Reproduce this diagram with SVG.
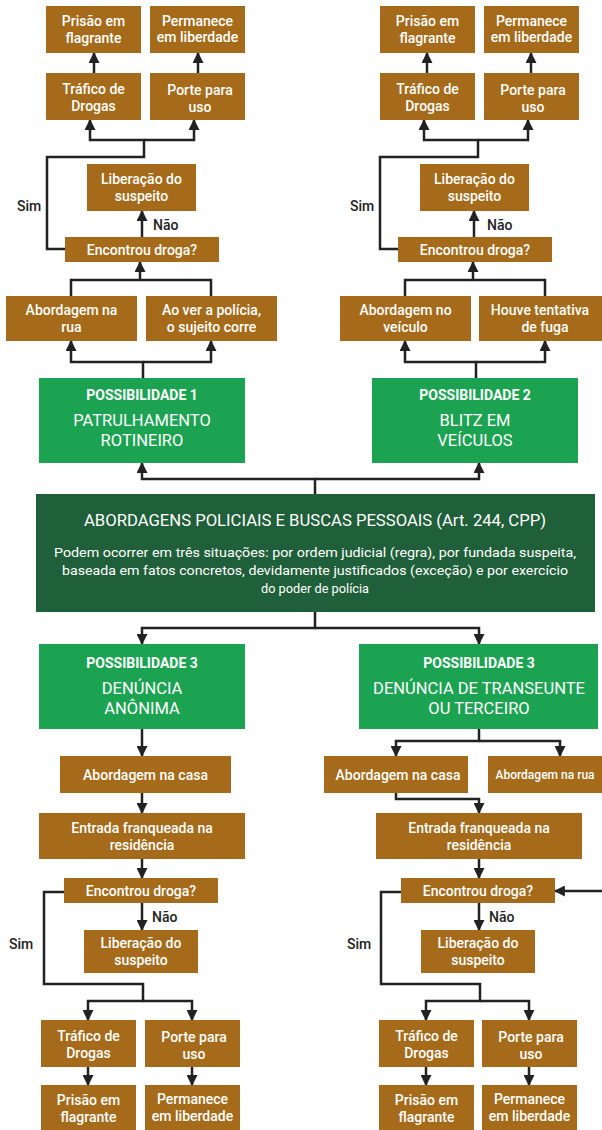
<svg xmlns="http://www.w3.org/2000/svg" width="602" height="1130" viewBox="0 0 602 1130">
<style>
.b{fill:#A56B1A}
.g{fill:#1CA352}
.d{fill:#1F5F39}
.t{font-family:Roboto,"Liberation Sans",sans-serif;font-size:14px;font-weight:500;fill:#fff;text-anchor:middle}
.gh{font-family:Roboto,"Liberation Sans",sans-serif;font-size:14px;font-weight:700;fill:#fff;text-anchor:middle}
.gt{font-family:Roboto,"Liberation Sans",sans-serif;font-size:16.5px;font-weight:400;fill:#fff;text-anchor:middle}
.mt{font-family:Roboto,"Liberation Sans",sans-serif;font-size:16px;font-weight:400;fill:#fff;text-anchor:middle}
.mb{font-family:Roboto,"Liberation Sans",sans-serif;font-size:13px;font-weight:400;fill:#fff;text-anchor:middle}
.l{font-family:Roboto,"Liberation Sans",sans-serif;font-size:14px;font-weight:500;fill:#222}
.c{fill:none;stroke:#222;stroke-width:2.5}
.a{marker-end:url(#ah)}
</style>
<defs>
<marker id="ah" viewBox="0 0 10 10" refX="9" refY="5" markerWidth="11" markerHeight="11" markerUnits="userSpaceOnUse" orient="auto">
<path d="M0,0 L10,5 L0,10 z" fill="#222"/>
</marker>
</defs>
<rect width="602" height="1130" fill="#fff"/>

<g id="connectors">
<path class="c a" d="M94,73 V53"/>
<path class="c a" d="M198,73 V53"/>
<path class="c a" d="M65,249 H47 V157 H144 V140 H90 V120"/>
<path class="c a" d="M144,140 H194 V120"/>
<path class="c a" d="M142,237 V211"/>
<path class="c" d="M71,296 V280 H211 V296"/>
<path class="c a" d="M140,280 V262"/>
<path class="c a" d="M143,378 V362 H71 V341"/>
<path class="c a" d="M143,362 H211 V341"/>
<path class="c a" d="M427,73 V53"/>
<path class="c a" d="M531,73 V53"/>
<path class="c a" d="M398,249 H380 V157 H478 V140 H424 V120"/>
<path class="c a" d="M478,140 H528 V120"/>
<path class="c a" d="M474,237 V211"/>
<path class="c" d="M405,296 V280 H545 V296"/>
<path class="c a" d="M473,280 V262"/>
<path class="c a" d="M476,378 V362 H405 V341"/>
<path class="c a" d="M476,362 H545 V341"/>
<path class="c a" d="M315,494 V479 H142 V463"/>
<path class="c a" d="M315,479 H479 V463"/>
<path class="c a" d="M315,612 V628 H142 V644"/>
<path class="c a" d="M315,628 H479 V644"/>
<path class="c a" d="M142,729 V756"/>
<path class="c a" d="M142,793 V813"/>
<path class="c a" d="M142,859 V878"/>
<path class="c a" d="M142,903 V930"/>
<path class="c a" d="M64,892 H44 V984 H143 V1001 H88 V1020"/>
<path class="c a" d="M143,1001 H192 V1020"/>
<path class="c a" d="M88,1067 V1085"/>
<path class="c a" d="M192,1067 V1085"/>
<path class="c a" d="M479,729 V741 H396 V756"/>
<path class="c a" d="M479,741 H560 V756"/>
<path class="c a" d="M396,793 V799 H479 V813"/>
<path class="c a" d="M479,859 V878"/>
<path class="c a" d="M602,891 H555"/>
<path class="c a" d="M479,903 V930"/>
<path class="c a" d="M401,892 H381 V984 H480 V1001 H426 V1020"/>
<path class="c a" d="M480,1001 H529 V1020"/>
<path class="c a" d="M426,1067 V1085"/>
<path class="c a" d="M529,1067 V1085"/>
</g>

<g id="labels">
<text class="l" x="17" y="211">Sim</text>
<text class="l" x="153" y="230">Não</text>
<text class="l" x="350" y="211">Sim</text>
<text class="l" x="487" y="230">Não</text>
<text class="l" x="152" y="922">Não</text>
<text class="l" x="9" y="949">Sim</text>
<text class="l" x="489" y="922">Não</text>
<text class="l" x="347" y="949">Sim</text>
</g>

<g id="tl-prisao"><rect class="b" x="46" y="6" width="95" height="47"/><text class="t" x="93.5" y="26">Prisão em</text><text class="t" x="93.5" y="43">flagrante</text></g>
<g id="tl-permanece"><rect class="b" x="150" y="6" width="95" height="47"/><text class="t" x="197.5" y="26">Permanece</text><text class="t" x="197.5" y="42">em liberdade</text></g>
<g id="tl-trafico"><rect class="b" x="46" y="73" width="95" height="47"/><text class="t" x="93.5" y="94">Tráfico de</text><text class="t" x="93.5" y="111">Drogas</text></g>
<g id="tl-porte"><rect class="b" x="150" y="73" width="95" height="47"/><text class="t" x="200" y="95">Porte para</text><text class="t" x="200" y="112">uso</text></g>
<g id="tl-liberacao"><rect class="b" x="87" y="164" width="109" height="47"/><text class="t" x="141.5" y="184">Liberação do</text><text class="t" x="141.5" y="201">suspeito</text></g>
<g id="tl-encontrou"><rect class="b" x="65" y="237" width="154" height="25"/><text class="t" x="142" y="254.5">Encontrou droga?</text></g>
<g id="tl-rua"><rect class="b" x="6" y="296" width="131" height="45"/><text class="t" x="71.5" y="315">Abordagem na</text><text class="t" x="71.5" y="332">rua</text></g>
<g id="tl-policia"><rect class="b" x="146" y="296" width="131" height="45"/><text class="t" x="211.5" y="315">Ao ver a polícia,</text><text class="t" x="211.5" y="332">o sujeito corre</text></g>
<g id="p1"><rect class="g" x="39" y="378" width="206" height="85"/><text class="gh" x="142" y="400">POSSIBILIDADE 1</text><text class="gt" x="142" y="426">PATRULHAMENTO</text><text class="gt" x="142" y="445.5">ROTINEIRO</text></g>

<g id="tr-prisao"><rect class="b" x="380" y="6" width="95" height="47"/><text class="t" x="427.5" y="26">Prisão em</text><text class="t" x="427.5" y="43">flagrante</text></g>
<g id="tr-permanece"><rect class="b" x="484" y="6" width="95" height="47"/><text class="t" x="531.5" y="26">Permanece</text><text class="t" x="531.5" y="42">em liberdade</text></g>
<g id="tr-trafico"><rect class="b" x="380" y="73" width="95" height="47"/><text class="t" x="427.5" y="94">Tráfico de</text><text class="t" x="427.5" y="111">Drogas</text></g>
<g id="tr-porte"><rect class="b" x="484" y="73" width="95" height="47"/><text class="t" x="533" y="95">Porte para</text><text class="t" x="533" y="112">uso</text></g>
<g id="tr-liberacao"><rect class="b" x="420" y="164" width="109" height="47"/><text class="t" x="474.5" y="184">Liberação do</text><text class="t" x="474.5" y="201">suspeito</text></g>
<g id="tr-encontrou"><rect class="b" x="398" y="237" width="154" height="25"/><text class="t" x="475" y="254.5">Encontrou droga?</text></g>
<g id="tr-veiculo"><rect class="b" x="340" y="296" width="131" height="45"/><text class="t" x="405.5" y="315">Abordagem no</text><text class="t" x="405.5" y="332">veículo</text></g>
<g id="tr-fuga"><rect class="b" x="479" y="296" width="123" height="45"/><text class="t" x="540" y="315">Houve tentativa</text><text class="t" x="545" y="332">de fuga</text></g>
<g id="p2"><rect class="g" x="372" y="378" width="206" height="85"/><text class="gh" x="475" y="400">POSSIBILIDADE 2</text><text class="gt" x="475" y="426">BLITZ EM</text><text class="gt" x="475" y="445.5">VEÍCULOS</text></g>

<g id="main"><rect class="d" x="36" y="494" width="559" height="118"/>
<text class="mt" x="315" y="525.5" textLength="462" lengthAdjust="spacingAndGlyphs">ABORDAGENS POLICIAIS E BUSCAS PESSOAIS (Art. 244, CPP)</text>
<text class="mb" x="315" y="557" textLength="522" lengthAdjust="spacingAndGlyphs">Podem ocorrer em três situações: por ordem judicial (regra), por fundada suspeita,</text>
<text class="mb" x="315" y="575" textLength="506" lengthAdjust="spacingAndGlyphs">baseada em fatos concretos, devidamente justificados (exceção) e por exercício</text>
<text class="mb" x="315" y="593" textLength="108" lengthAdjust="spacingAndGlyphs">do poder de polícia</text>
</g>

<g id="p3a"><rect class="g" x="39" y="644" width="206" height="85"/><text class="gh" x="142" y="668">POSSIBILIDADE 3</text><text class="gt" x="142" y="694">DENÚNCIA</text><text class="gt" x="142" y="714">ANÔNIMA</text></g>
<g id="bl-casa"><rect class="b" x="60" y="756" width="171" height="37"/><text class="t" x="145.5" y="779.5">Abordagem na casa</text></g>
<g id="bl-entrada"><rect class="b" x="39" y="813" width="206" height="46"/><text class="t" x="142" y="833">Entrada franqueada na</text><text class="t" x="142" y="850">residência</text></g>
<g id="bl-encontrou"><rect class="b" x="64" y="878" width="154" height="25"/><text class="t" x="141" y="895.5">Encontrou droga?</text></g>
<g id="bl-liberacao"><rect class="b" x="84" y="930" width="114" height="43"/><text class="t" x="141" y="948">Liberação do</text><text class="t" x="141" y="965">suspeito</text></g>
<g id="bl-trafico"><rect class="b" x="41" y="1020" width="95" height="47"/><text class="t" x="88.5" y="1041">Tráfico de</text><text class="t" x="88.5" y="1058">Drogas</text></g>
<g id="bl-porte"><rect class="b" x="145" y="1020" width="95" height="47"/><text class="t" x="194" y="1042">Porte para</text><text class="t" x="194" y="1059">uso</text></g>
<g id="bl-prisao"><rect class="b" x="41" y="1085" width="95" height="45"/><text class="t" x="88.5" y="1105">Prisão em</text><text class="t" x="88.5" y="1122">flagrante</text></g>
<g id="bl-permanece"><rect class="b" x="145" y="1085" width="95" height="45"/><text class="t" x="192.5" y="1104">Permanece</text><text class="t" x="192.5" y="1121">em liberdade</text></g>

<g id="p3b"><rect class="g" x="359" y="644" width="239" height="85"/><text class="gh" x="479" y="668">POSSIBILIDADE 3</text><text class="gt" x="479" y="694">DENÚNCIA DE TRANSEUNTE</text><text class="gt" x="479" y="714">OU TERCEIRO</text></g>
<g id="br-casa"><rect class="b" x="324" y="756" width="144" height="37"/><text class="t" x="398" y="779.5">Abordagem na casa</text></g>
<g id="br-rua"><rect class="b" x="488" y="756" width="114" height="37"/><text class="t" style="font-size:12px" x="545" y="779">Abordagem na rua</text></g>
<g id="br-entrada"><rect class="b" x="376" y="813" width="206" height="46"/><text class="t" x="479" y="833">Entrada franqueada na</text><text class="t" x="479" y="850">residência</text></g>
<g id="br-encontrou"><rect class="b" x="401" y="878" width="154" height="25"/><text class="t" x="478" y="895.5">Encontrou droga?</text></g>
<g id="br-liberacao"><rect class="b" x="421" y="930" width="114" height="43"/><text class="t" x="478" y="948">Liberação do</text><text class="t" x="478" y="965">suspeito</text></g>
<g id="br-trafico"><rect class="b" x="379" y="1020" width="95" height="47"/><text class="t" x="426.5" y="1041">Tráfico de</text><text class="t" x="426.5" y="1058">Drogas</text></g>
<g id="br-porte"><rect class="b" x="482" y="1020" width="95" height="47"/><text class="t" x="531" y="1042">Porte para</text><text class="t" x="531" y="1059">uso</text></g>
<g id="br-prisao"><rect class="b" x="379" y="1085" width="95" height="45"/><text class="t" x="426.5" y="1105">Prisão em</text><text class="t" x="426.5" y="1122">flagrante</text></g>
<g id="br-permanece"><rect class="b" x="482" y="1085" width="95" height="45"/><text class="t" x="529.5" y="1104">Permanece</text><text class="t" x="529.5" y="1121">em liberdade</text></g>
</svg>
